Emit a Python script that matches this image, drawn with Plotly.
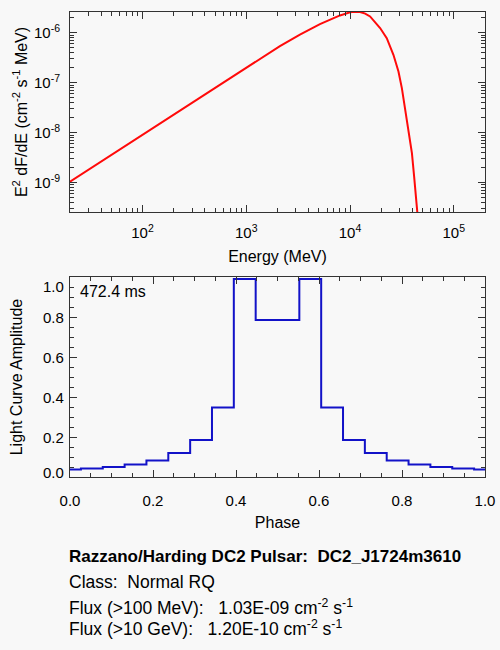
import plotly.graph_objects as go
from plotly.subplots import make_subplots

# spectrum
energy_mev = [20, 50, 100, 200, 500, 865, 1350, 2110, 3290, 5130, 8000, 9000,
              10000, 11000, 12500, 14000, 15600, 19500, 22600, 26200, 29300,
              31600, 33500, 36600, 39500, 41500, 43400, 44700, 46000]
e2dfde = [1.05e-9, 3.6e-9, 9.2e-9, 2.33e-8, 7.97e-8, 1.66e-7, 3.0e-7, 5.4e-7,
          9.2e-7, 1.49e-6, 2.22e-6, 2.42e-6, 2.56e-6, 2.63e-6, 2.6e-6, 2.42e-6,
          2.12e-6, 1.24e-6, 7.8e-7, 3.62e-7, 1.68e-7, 7.8e-8, 3.6e-8, 1.14e-8,
          3.9e-9, 1.32e-9, 5.2e-10, 2.6e-10, 1.2e-10]

# light curve, 19 bins centred on k/19
phase = [0.0, 0.0526, 0.1053, 0.1579, 0.2105, 0.2632, 0.3158, 0.3684, 0.4211,
         0.4737, 0.5263, 0.5789, 0.6316, 0.6842, 0.7368, 0.7895, 0.8421,
         0.8947, 0.9474, 1.0]
amplitude = [0.038, 0.042, 0.05, 0.062, 0.082, 0.12, 0.185, 0.347, 0.99, 0.785,
             0.785, 0.99, 0.347, 0.185, 0.12, 0.082, 0.062, 0.05, 0.042, 0.038]

energy_ticks = [1e2, 1e3, 1e4, 1e5]
energy_ticktext = ["10<sup>2</sup>", "10<sup>3</sup>", "10<sup>4</sup>", "10<sup>5</sup>"]
flux_ticks = [1e-9, 1e-8, 1e-7, 1e-6]
flux_ticktext = ["10<sup>-9</sup>", "10<sup>-8</sup>", "10<sup>-7</sup>", "10<sup>-6</sup>"]
amp_ticks = [0.0, 0.2, 0.4, 0.6, 0.8, 1.0]
amp_ticktext = ["0.0", "0.2", "0.4", "0.6", "0.8", "1.0"]

info_lines = [
    "<b>Razzano/Harding DC2 Pulsar:  DC2_J1724m3610</b>",
    "Class:  Normal RQ",
    "Flux (>100 MeV):   1.03E-09 cm<sup>-2</sup> s<sup>-1</sup>",
    "Flux (>10 GeV):   1.20E-10 cm<sup>-2</sup> s<sup>-1</sup>",
]
period_label = "472.4 ms"

FONT = "Liberation Sans, Arial, Helvetica, sans-serif"
AXCOL = "#333333"
BG = "#f8f8f8"

fig = make_subplots(rows=2, cols=1)

fig.add_trace(go.Scatter(x=energy_mev, y=e2dfde, mode="lines",
                         line=dict(color="#ff0a0a", width=2),
                         showlegend=False, hoverinfo="skip"), row=1, col=1)
fig.add_trace(go.Scatter(x=phase, y=amplitude, mode="lines",
                         line=dict(color="#1212c8", width=2, shape="hvh"),
                         showlegend=False, hoverinfo="skip"), row=2, col=1)

# minor tick positions for the log axes
minor_e = [m * 10 ** d for d in range(1, 6) for m in range(2, 10)]
minor_f = [m * 10.0 ** d for d in range(-10, -5) for m in range(2, 10)]

common = dict(showline=True, linecolor=AXCOL, linewidth=1, mirror="allticks",
              ticks="inside", tickcolor=AXCOL, ticklen=7, tickwidth=1,
              showgrid=False, zeroline=False, automargin=False,
              tickfont=dict(family=FONT, size=15, color="black"),
              title_font=dict(family=FONT, size=16, color="black"))

fig.update_xaxes(type="log", range=[1.301, 5.301], tickmode="array",
                 tickvals=energy_ticks, ticktext=energy_ticktext,
                 minor=dict(ticks="inside", ticklen=4, tickcolor=AXCOL,
                            tickmode="array", tickvals=minor_e),
                 title_text="Energy (MeV)", title_standoff=10,
                 ticklabelstandoff=7,
                 domain=[0, 1], anchor="y", row=1, col=1, **common)
fig.update_yaxes(type="log", range=[-9.585, -5.585], tickmode="array",
                 tickvals=flux_ticks, ticktext=flux_ticktext,
                 minor=dict(ticks="inside", ticklen=4, tickcolor=AXCOL,
                            tickmode="array", tickvals=minor_f),
                 title_text="E<sup>2</sup> dF/dE (cm<sup>-2</sup> s<sup>-1</sup> MeV)",
                 title_standoff=2, ticklabelstandoff=6,
                 domain=[0.570, 1.0], row=1, col=1, **common)

fig.update_xaxes(range=[0, 1], dtick=0.2, tickformat=".1f",
                 minor=dict(ticks="inside", ticklen=4, tickcolor=AXCOL, dtick=0.05),
                 title_text="Phase", title_standoff=8, ticklabelstandoff=10,
                 row=2, col=1, **common)
fig.update_yaxes(range=[0, 1], tickmode="array", tickvals=amp_ticks,
                 showticklabels=False,
                 minor=dict(ticks="inside", ticklen=4, tickcolor=AXCOL, dtick=0.05),
                 title_text="Light Curve Amplitude", title_standoff=42,
                 domain=[0, 0.430], row=2, col=1, **common)

# amplitude tick labels (end labels sit inside the frame, as in the original)
label_shift = [5, 0, 0, 0, 0, -9]
for v, t, s in zip(amp_ticks, amp_ticktext, label_shift):
    fig.add_annotation(text=t, xref="x2 domain", yref="y2", x=0, y=v,
                       xanchor="right", yanchor="middle", xshift=-4, yshift=s,
                       showarrow=False,
                       font=dict(family=FONT, size=15, color="black"))

fig.add_annotation(text=period_label, xref="x2 domain", yref="y2 domain",
                   x=0.026, y=0.927, xanchor="left", yanchor="middle",
                   xshift=-3, showarrow=False,
                   font=dict(family=FONT, size=16, color="black"))

line_y = [-0.171, -0.226, -0.280, -0.324]
line_size = [17, 17.5, 17.5, 17.5]
for txt, yy, sz in zip(info_lines, line_y, line_size):
    fig.add_annotation(text=txt, xref="paper", yref="paper", x=0, y=yy,
                       xanchor="left", yanchor="middle", xshift=-3,
                       showarrow=False,
                       font=dict(family=FONT, size=sz, color="black"))

fig.update_layout(width=500, height=650, autosize=False,
                  margin=dict(l=70, r=15, t=12, b=173),
                  paper_bgcolor=BG, plot_bgcolor=BG,
                  font=dict(family=FONT, color="black"))

fig.write_html("out.html", config={"displayModeBar": False},
               post_script="document.body.style.margin='0';")
